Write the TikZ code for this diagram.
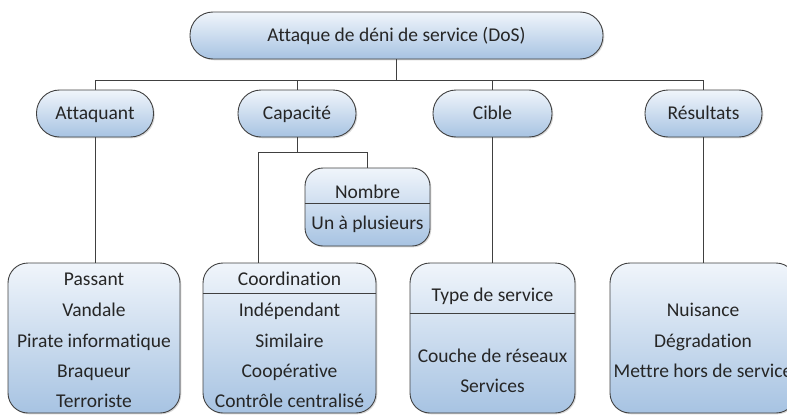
\documentclass[tikz,border=0pt]{standalone}
\usepackage{fontspec}
\setmainfont{Carlito}[Ligatures=NoCommon]
\usetikzlibrary{shadows}
\definecolor{edge}{HTML}{404040}
\definecolor{topfill}{HTML}{F0F5FB}
\definecolor{botfill}{HTML}{A7C3E2}
\definecolor{ink}{HTML}{262626}
\begin{document}
\begin{tikzpicture}[x=1pt,y=-1pt,
  txtfont/.style={font=\fontsize{19.5}{20}\selectfont, text=ink},
  box/.style={draw=edge, line width=0.9pt, top color=topfill, bottom color=botfill,
    drop shadow={shadow xshift=1.3pt, shadow yshift=-1.3pt, opacity=0.3, fill=gray},
    inner sep=0pt, txtfont, text height=16pt, text depth=3.6pt},
  pill/.style={box, rounded corners=23pt, minimum height=47pt},
  panel/.style={box, rounded corners=20pt, minimum height=150pt},
  lbl/.style={anchor=base, inner sep=0pt, txtfont},
  wire/.style={draw=edge, line width=0.9pt}]
\useasboundingbox (0,0) rectangle (787,415);
\clip (0,0) rectangle (787,415);

% root and first level
\node[pill, minimum width=413pt] (root) at (396.5,35.5) {Attaque de déni de service (DoS)};
\node[pill, minimum width=117pt] (att) at (95,113.5) {Attaquant};
\node[pill, minimum width=118pt] (cap) at (297,113.5) {Capacité};
\node[pill, minimum width=119pt] (cib) at (492.5,113.5) {Cible};
\node[pill, minimum width=117pt] (res) at (703.5,113.5) {Résultats};

% detail panels
\node[box, rounded corners=18pt, minimum width=125pt, minimum height=78pt] (nom) at (367.5,207) {};
\node[panel, minimum width=172pt] (attP) at (94,338) {};
\node[panel, minimum width=173pt] (capP) at (289.5,338) {};
\node[panel, minimum width=165pt] (cibP) at (492.5,338) {};
\node[panel, minimum width=186pt] (resP) at (703,338) {};

% compartment dividers
\draw[wire] (nom.west |- 0,203) -- (nom.east |- 0,203);
\draw[wire] (capP.west |- 0,293) -- (capP.east |- 0,293);
\draw[wire] (cibP.west |- 0,313) -- (cibP.east |- 0,313);

% connectors
\draw[wire] (root.south) -- (root.south |- 0,80);
\draw[wire] (att.north) |- (0,80 -| res.north) -- (res.north);
\draw[wire] (cap.north) -- (cap.north |- 0,80);
\draw[wire] (cib.north) -- (cib.north |- 0,80);
\coordinate (capL) at (258,152);
\draw[wire] (cap.south) -- (cap.south |- capL);
\draw[wire] (capL |- capP.north) -- (capL) -| (nom.north);
\draw[wire] (att.south) -- (att.south |- attP.north);
\draw[wire] (cib.south) -- (cib.south |- cibP.north);
\draw[wire] (res.south) -- (res.south |- resP.north);

% texts
\node[lbl] (nomA) at (367.5,198) {Nombre};
\node[lbl] (nomB) at (367.5,229) {Un à plusieurs};

\node[lbl] (att1) at (94,285) {Passant};
\node[lbl] (att2) at (94,316) {Vandale};
\node[lbl] (att3) at (94,347) {Pirate informatique};
\node[lbl] (att4) at (94,377) {Braqueur};
\node[lbl] (att5) at (94,407) {Terroriste};

\node[lbl] (cap1) at (289.5,285) {Coordination};
\node[lbl] (cap2) at (289.5,316) {Indépendant};
\node[lbl] (cap3) at (289.5,347) {Similaire};
\node[lbl] (cap4) at (289.5,377) {Coopérative};
\node[lbl] (cap5) at (289.5,407) {Contrôle centralisé};

\node[lbl] (cib1) at (492.5,301) {Type de service};
\node[lbl] (cib2) at (492.5,362) {Couche de réseaux};
\node[lbl] (cib3) at (492.5,392) {Services};

\node[lbl] (res1) at (703,316) {Nuisance};
\node[lbl] (res2) at (703,347) {Dégradation};
\node[lbl] (res3) at (703,377) {Mettre hors de service};
\end{tikzpicture}
\end{document}
